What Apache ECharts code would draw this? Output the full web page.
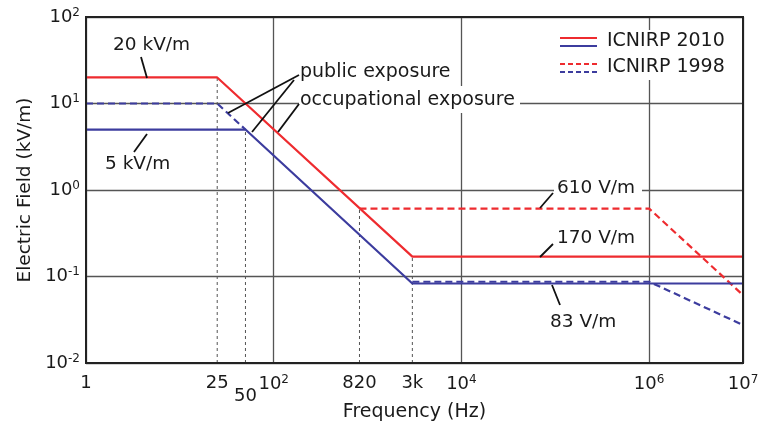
<!DOCTYPE html>
<html><head><meta charset="utf-8">
<script src="https://cdn.jsdelivr.net/npm/echarts@6/dist/echarts.min.js"></script>
<style>html,body{margin:0;padding:0;background:#fff}#c{width:770px;height:425px}</style>
</head><body><div id="c"></div>
<script>
// ---- data ----
const occ2010 = [[1, 20], [25, 20], [3000, 0.17], [1e7, 0.17]];
const pub2010 = [[1, 5], [50, 5], [3000, 0.083], [1e7, 0.083]];
const occ1998 = [[820, 0.61], [1e6, 0.61], [1e7, 0.061]];
const pub1998a = [[1, 10], [25, 10], [50, 5]];
const pub1998b = [[3000, 0.087], [1e6, 0.087], [1e7, 0.0275]];
const markerFreqs = [25, 50, 820, 3000];
const markerTops = [20, 5, 0.61, 0.17];
const xTicks = [1, 25, 50, 100, 820, 3000, 1e4, 1e6, 1e7];
const xTickText = ['1', '25', '50', '10^2', '820', '3k', '10^4', '10^6', '10^7'];
const yMin = 0.01, yMax = 100, xMin = 1, xMax = 1e7;

const RED = '#ee2b2f', BLUE = '#3c3c9e', FONT = 'DejaVu Sans', TXT = '#1a1a1a';
function fmt(t) {
  if (t.indexOf('^') >= 0) { const p = t.split('^'); return '{n|' + p[0] + '}{s|' + p[1] + '}'; }
  return '{n|' + t + '}';
}
const rich = {
  n: { fontFamily: FONT, fontSize: 18, color: TXT },
  s: { fontFamily: FONT, fontSize: 12, color: TXT, padding: [0, 0, 9, 0] }
};
const chart = echarts.init(document.getElementById('c'), null, { renderer: 'canvas' });

const series = [];
markerFreqs.forEach((f, i) => {
  series.push({ type: 'line', data: [[f, yMin], [f, markerTops[i]]], symbol: 'none', silent: true,
    lineStyle: { color: '#555', width: 1, type: [3, 3] }, z: 1 });
});
const mk = (d, c, dashed) => ({ type: 'line', data: d, symbol: 'none', silent: true, z: 3,
  lineStyle: { color: c, width: 2.2, type: dashed ? [7, 4] : 'solid' } });
series.push(mk(occ1998, RED, true));
series.push(mk(pub1998a, BLUE, true));
series.push(mk(pub1998b, BLUE, true));
series.push(mk(occ2010, RED, false));
series.push(mk(pub2010, BLUE, false));
series.push({ type: 'scatter', symbolSize: 0, silent: true, clip: false, itemStyle: { opacity: 1 },
  data: xTicks.map((v, i) => ({ value: [v, yMin],
    label: { show: true, color: TXT, opacity: 1, position: 'bottom', distance: v === 50 ? 24 : 11, formatter: fmt(xTickText[i]), rich: rich } })) });

const L = (x1, y1, x2, y2, c, w, dash) => ({ type: 'line', shape: { x1, y1, x2, y2 },
  style: { stroke: c || '#111', lineWidth: w || 1.8, lineDash: dash || null }, z: 50 });
const T = (x, y, t, sz) => ({ type: 'text', x, y, style: { text: t, fontFamily: FONT, fontSize: sz || 19,
  fill: TXT, textVerticalAlign: 'middle', verticalAlign: 'middle' }, z: 60 });
const R = (x, y, w, h) => ({ type: 'rect', shape: { x, y, width: w, height: h }, style: { fill: '#fff' }, z: 40 });

const graphic = [
  R(299, 86, 221, 27), R(299, 60, 158, 25), R(554, 178, 88, 22), R(554, 30, 180, 50),
  T(113, 45, '20 kV/m', 18.5), L(141, 57, 147, 78),
  T(105, 164, '5 kV/m', 18.5), L(147, 134, 134, 152),
  T(300, 72, 'public exposure'), L(299, 75, 228, 113), L(294, 80, 252, 132),
  T(300, 100, 'occupational exposure'), L(299, 104, 278, 132),
  T(557, 188, '610 V/m', 18.5), L(553, 193, 540, 208),
  T(557, 238, '170 V/m', 18.5), L(553, 244, 540, 257),
  T(550, 322, '83 V/m', 18.5), L(552, 285, 560, 305),
  L(560, 38, 597, 38, RED, 2.2), L(560, 46, 597, 46, BLUE, 2.2),
  L(560, 64, 597, 64, RED, 2.2, [5, 3]), L(560, 72, 597, 72, BLUE, 2.2, [5, 3]),
  T(607, 41, 'ICNIRP 2010', 19), T(607, 67, 'ICNIRP 1998', 19)
];

chart.setOption({
  animation: false,
  grid: { left: 86, right: 27, top: 17, bottom: 62, show: true, borderColor: '#222', borderWidth: 2,
    backgroundColor: 'transparent', z: 10, outerBoundsMode: 'none', containLabel: false },
  xAxis: { type: 'log', logBase: 10, min: xMin, max: xMax, interval: 2,
    name: 'Frequency (Hz)', nameLocation: 'middle', nameGap: 40,
    nameTextStyle: { fontFamily: FONT, fontSize: 19, color: TXT },
    axisLine: { show: false }, axisTick: { show: false }, axisLabel: { show: false },
    splitLine: { show: true, lineStyle: { color: '#555', width: 1.3 } } },
  yAxis: { type: 'log', logBase: 10, min: yMin, max: yMax, interval: 1,
    name: 'Electric Field (kV/m)', nameLocation: 'middle', nameGap: 50, nameRotate: 90,
    nameTextStyle: { fontFamily: FONT, fontSize: 18.5, color: TXT },
    axisLine: { show: false }, axisTick: { show: false },
    axisLabel: { margin: 6, formatter: v => fmt('10^' + Math.round(Math.log10(v))), rich: rich },
    splitLine: { show: true, lineStyle: { color: '#555', width: 1.3 } } },
  series: series,
  graphic: graphic
});
</script></body></html>
